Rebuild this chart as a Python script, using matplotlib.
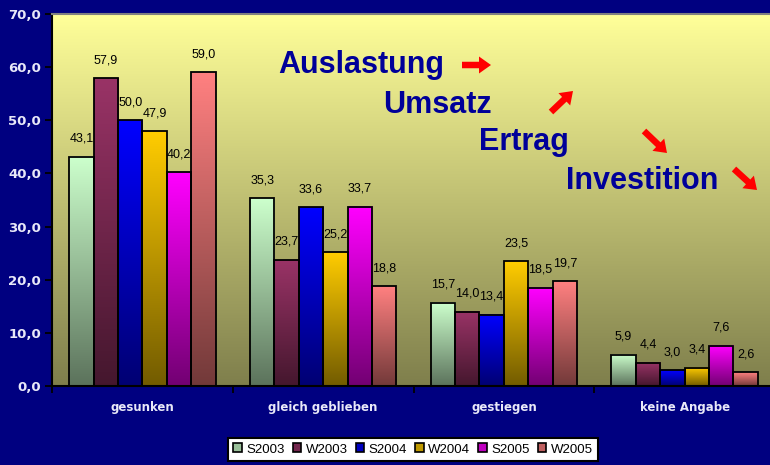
import numpy as np
import matplotlib.pyplot as plt
from matplotlib.colors import to_rgb
from matplotlib.patches import Patch, FancyArrow

# Daten
categories = ['gesunken', 'gleich geblieben', 'gestiegen', 'keine Angabe']
series = ['S2003', 'W2003', 'S2004', 'W2004', 'S2005', 'W2005']
s2003 = [43.1, 35.3, 15.7, 5.9]
w2003 = [57.9, 23.7, 14.0, 4.4]
s2004 = [50.0, 33.6, 13.4, 3.0]
w2004 = [47.9, 25.2, 23.5, 3.4]
s2005 = [40.2, 33.7, 18.5, 7.6]
w2005 = [59.0, 18.8, 19.7, 2.6]
values = [s2003, w2003, s2004, w2004, s2005, w2005]
colors = ['#CCFFCC', '#993366', '#0000FF', '#FFCC00', '#FF00FF', '#FF8080']

navy = '#000080'
tick_col = '#E8E8F8'


def gradient(c, f=0.48, n=64):
    top = np.array(to_rgb(c))
    bot = top * f
    t = np.linspace(0, 1, n)[:, None]
    return (bot + (top - bot) * t)[:, None, :]


def fmt(v):
    return f"{v:.1f}".replace('.', ',')


fig = plt.figure(figsize=(7.7, 4.65), dpi=100, facecolor=navy)
ax = fig.add_axes([52 / 770, 79 / 465, 723 / 770, 372 / 465])
ax.set_facecolor('none')

# Hintergrund mit Verlauf
ax.imshow(gradient('#FFFF99', f=0.5), extent=(0, 1, 0, 1), transform=ax.transAxes,
          origin='lower', aspect='auto', interpolation='bilinear', zorder=0)

x = np.arange(len(categories))
width = 0.135
for i, (vals, col) in enumerate(zip(values, colors)):
    bars = ax.bar(x + (i - 2.5) * width, vals, width, facecolor='none',
                  edgecolor='black', linewidth=1.3, zorder=3)
    for rect, v in zip(bars, vals):
        x0 = rect.get_x()
        ax.imshow(gradient(col, f=0.45), extent=(x0, x0 + rect.get_width(), 0, rect.get_height()),
                  origin='lower', aspect='auto', interpolation='bilinear', zorder=2)
        ax.annotate(fmt(v), (x0 + rect.get_width() / 2, rect.get_height()),
                    xytext=(0, 13), textcoords='offset points', ha='center', va='center',
                    fontsize=9, family='Liberation Sans', color='black', zorder=4)

ax.set_xlim(-0.5, 3.5)
ax.set_ylim(0, 70)

# Achsen
ax.set_yticks(np.arange(0, 71, 10))
ax.set_yticklabels([fmt(v) for v in np.arange(0, 71, 10)])
ax.tick_params(axis='y', direction='out', length=5, width=1.3, color='black', pad=3,
               labelsize=9.5, labelcolor=tick_col)
for lab in ax.get_yticklabels():
    lab.set_fontweight('bold')
    lab.set_family('DejaVu Sans')

ax.set_xticks([-0.5, 0.5, 1.5, 2.5, 3.5])
ax.set_xticklabels([])
ax.set_xticks(x, minor=True)
ax.set_xticklabels(categories, minor=True)
ax.tick_params(axis='x', which='major', direction='out', length=5, width=1.3, color='black')
ax.tick_params(axis='x', which='minor', length=0, pad=11, labelsize=8.5, labelcolor=tick_col)
for lab in ax.get_xticklabels(minor=True):
    lab.set_fontweight('bold')
    lab.set_family('DejaVu Sans')

ax.spines['left'].set_color('black')
ax.spines['left'].set_linewidth(1.5)
ax.spines['bottom'].set_color('black')
ax.spines['bottom'].set_linewidth(1.5)
ax.spines['top'].set_color('#808080')
ax.spines['top'].set_linewidth(1.5)
ax.spines['right'].set_visible(False)

# Beschriftungen
words = ['Auslastung', 'Umsatz', 'Ertrag', 'Investition']
word_pos = [(278, 73), (383, 113), (479, 150), (566, 189)]
# Pfeile: Start- und Endpunkt in Pixeln
arrow_pos = [((462, 65), (491, 65)), ((551, 112), (573, 91)),
             ((644, 131), (667, 153)), ((734, 169), (757, 190))]
for w, (px, py) in zip(words, word_pos):
    fig.text(px / 770, 1 - py / 465, w, ha='left', va='baseline', fontsize=22,
             fontweight='bold', family='Liberation Sans', color='#000099')
for (x1, y1), (x2, y2) in arrow_pos:
    sx, sy = x1 / 100, (465 - y1) / 100
    dx, dy = (x2 - x1) / 100, -(y2 - y1) / 100
    fig.patches.append(FancyArrow(sx, sy, dx, dy, width=0.065, head_width=0.17,
                                  head_length=0.12, length_includes_head=True,
                                  color='#FF0000', linewidth=0,
                                  transform=fig.dpi_scale_trans))

# Legende
handles = [Patch(facecolor=tuple(np.array(to_rgb(c)) * 0.75), edgecolor='black', linewidth=1.2)
           for c in colors]
leg = fig.legend(handles, series, loc='center', bbox_to_anchor=(413 / 770, 1 - 449.5 / 465),
                 ncol=6, prop={'family': 'Liberation Sans', 'size': 9.5},
                 handlelength=0.65, handleheight=0.65, handletextpad=0.35, columnspacing=0.6,
                 fancybox=False, framealpha=1, edgecolor='black', borderpad=0.4)
leg.get_frame().set_linewidth(1.5)

fig.savefig('out.png', dpi=100, facecolor=navy)
